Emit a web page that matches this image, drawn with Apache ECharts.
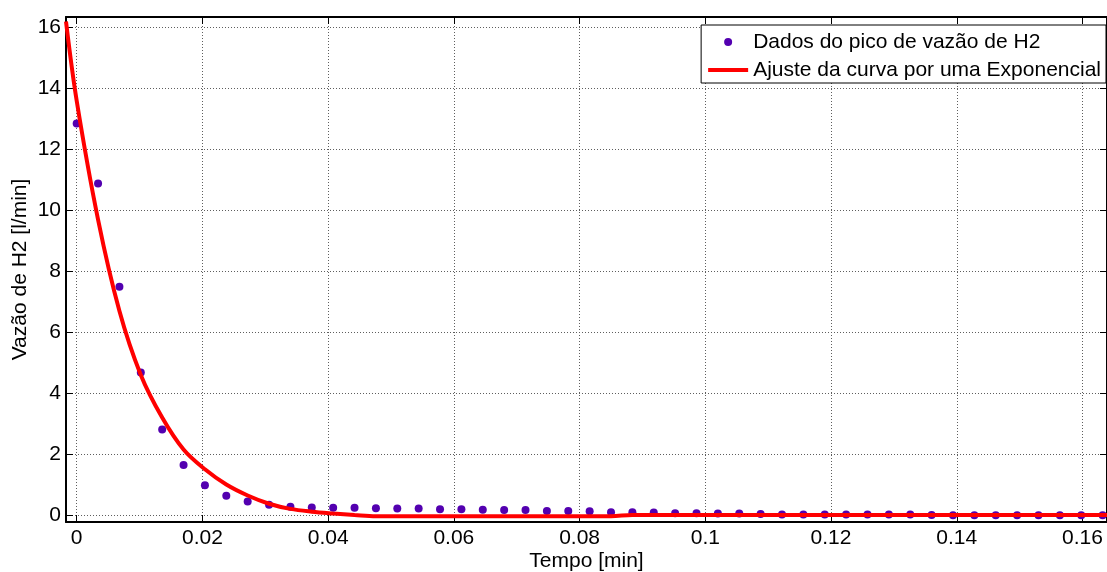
<!DOCTYPE html>
<html>
<head>
<meta charset="utf-8">
<script src="https://cdn.jsdelivr.net/npm/echarts@6/dist/echarts.min.js"></script>
<style>
  html, body { margin: 0; padding: 0; background: #fff; }
  #chart { width: 1107px; height: 572px; }
</style>
</head>
<body>
<div id="chart"></div>
<script>
// ---- Data ----
const tempoDados = [0, 0.0034, 0.0068, 0.0102, 0.0136, 0.017, 0.0204, 0.0238, 0.0272, 0.0306,
  0.034, 0.0374, 0.0408, 0.0442, 0.0476, 0.051, 0.0544, 0.0578, 0.0612, 0.0646,
  0.068, 0.0714, 0.0748, 0.0782, 0.0816, 0.085, 0.0884, 0.0918, 0.0952, 0.0986,
  0.102, 0.1054, 0.1088, 0.1122, 0.1156, 0.119, 0.1224, 0.1258, 0.1292, 0.1326,
  0.136, 0.1394, 0.1428, 0.1462, 0.1496, 0.153, 0.1564, 0.1598, 0.1632];
const vazaoDados = [12.85, 10.88, 7.49, 4.68, 2.81, 1.64, 0.98, 0.63, 0.44, 0.34,
  0.27, 0.25, 0.24, 0.24, 0.22, 0.21, 0.21, 0.19, 0.19, 0.17,
  0.16, 0.16, 0.13, 0.13, 0.12, 0.09, 0.09, 0.08, 0.06, 0.06,
  0.05, 0.05, 0.03, 0.02, 0.02, 0.02, 0.02, 0.02, 0.02, 0.02,
  0.0, -0.01, -0.01, -0.01, -0.01, -0.01, -0.01, -0.01, -0.01];

const tempoAjuste = [-0.0017, 0, 0.0034, 0.0068, 0.0102, 0.0136, 0.017, 0.0204, 0.0238, 0.0272,
  0.0306, 0.034, 0.0374, 0.0408, 0.0442, 0.0476, 0.051, 0.0544, 0.0578, 0.0612,
  0.0646, 0.068, 0.0714, 0.0748, 0.0782, 0.0816, 0.085, 0.0884, 0.0918, 0.0952,
  0.0986, 0.102, 0.1054, 0.1088, 0.1122, 0.1156, 0.119, 0.1224, 0.1258, 0.1292,
  0.1326, 0.136, 0.1394, 0.1428, 0.1462, 0.1496, 0.153, 0.1564, 0.1598, 0.1632, 0.1639];
const vazaoAjuste = [16.2, 13.6, 9.7, 6.7, 4.6, 3.2, 2.15, 1.5, 1.0, 0.64,
  0.37, 0.2, 0.11, 0.05, 0.0, -0.04, -0.04, -0.04, -0.04, -0.04,
  -0.04, -0.04, -0.04, -0.04, -0.04, -0.04, -0.04, 0.0, 0.0, 0.0,
  0.0, 0.0, 0.0, 0.0, 0.0, 0.0, 0.0, 0.0, 0.0, 0.0,
  0.0, 0.0, 0.0, 0.0, 0.0, 0.0, 0.0, 0.0, 0.0, 0.0, 0.0];

const nomeDados = 'Dados do pico de vazão de H2';
const nomeAjuste = 'Ajuste da curva por uma Exponencial';
const xTitulo = 'Tempo [min]';
const yTitulo = 'Vazão de H2 [l/min]';
const xLimites = [-0.0017, 0.1639];
const yLimites = [-0.23, 16.35];
const xPasso = 0.02;
const yPasso = 2;

// ---- Chart ----
const FONT = '"Liberation Sans", Arial, sans-serif';
function fmt(step) {
  return function (v) {
    const k = v / step;
    if (Math.abs(k - Math.round(k)) > 1e-6) return '';
    return String(+(Math.round(k) * step).toFixed(6));
  };
}
const gridLine = { show: true, lineStyle: { color: '#5e5e5e', type: [1, 2], width: 1 } };
const axLine = { show: true, onZero: false, lineStyle: { color: '#000', width: 2 } };
const tick = { show: true, inside: true, length: 7, lineStyle: { color: '#000', width: 1 } };

const chart = echarts.init(document.getElementById('chart'), null, { renderer: 'canvas' });
chart.setOption({
  backgroundColor: '#fff',
  animation: false,
  textStyle: { fontFamily: FONT },
  grid: { left: 66, top: 17, right: 0, bottom: 50, containLabel: false, outerBoundsMode: 'none' },
  legend: {
    orient: 'vertical',
    right: 1,
    top: 25,
    backgroundColor: '#fff',
    borderColor: '#000',
    borderWidth: 1,
    borderRadius: 0,
    padding: [5, 5, 1, 7],
    itemGap: 4,
    itemWidth: 40,
    itemHeight: 8,
    symbolKeepAspect: true,
    textStyle: { fontSize: 21, color: '#000', fontFamily: FONT, lineHeight: 24 },
    data: [
      { name: nomeDados, icon: 'circle', itemStyle: { color: '#5300b0', opacity: 1 } },
      { name: nomeAjuste, icon: 'path://M0,0 L40,0 L40,4 L0,4 Z', itemStyle: { color: '#ff0000' } }
    ]
  },
  xAxis: [{
    type: 'value',
    min: xLimites[0], max: xLimites[1],
    splitNumber: 8,
    name: xTitulo, nameLocation: 'middle', nameGap: 29, nameMoveOverlap: false,
    nameTextStyle: { fontSize: 21, color: '#000', fontFamily: FONT },
    axisLine: axLine,
    axisTick: tick,
    axisLabel: { fontSize: 21, color: '#000', margin: 6, formatter: fmt(xPasso), fontFamily: FONT, hideOverlap: false },
    splitLine: gridLine
  }, {
    type: 'value', position: 'top',
    min: xLimites[0], max: xLimites[1], splitNumber: 8,
    axisLine: axLine,
    axisTick: tick,
    axisLabel: { show: false },
    splitLine: { show: false }
  }],
  yAxis: [{
    type: 'value',
    min: yLimites[0], max: yLimites[1],
    splitNumber: 8,
    name: yTitulo, nameLocation: 'middle', nameGap: 35, nameMoveOverlap: false,
    nameTextStyle: { fontSize: 21, color: '#000', fontFamily: FONT },
    axisLine: axLine,
    axisTick: tick,
    axisLabel: { fontSize: 21, color: '#000', margin: 5, formatter: fmt(yPasso), fontFamily: FONT, hideOverlap: false },
    splitLine: gridLine
  }, {
    type: 'value', position: 'right',
    min: yLimites[0], max: yLimites[1], splitNumber: 8,
    axisLine: axLine,
    axisTick: tick,
    axisLabel: { show: false },
    splitLine: { show: false }
  }],
  series: [{
    name: nomeDados,
    type: 'scatter',
    symbol: 'circle',
    symbolSize: 8,
    itemStyle: { color: '#5300b0', opacity: 1 },
    data: tempoDados.map((t, i) => [t, vazaoDados[i]]),
    z: 2
  }, {
    name: nomeAjuste,
    type: 'line',
    symbol: 'none',
    showSymbol: false,
    smooth: 0.35,
    lineStyle: { color: '#ff0000', width: 4 },
    itemStyle: { color: '#ff0000' },
    data: tempoAjuste.map((t, i) => [t, vazaoAjuste[i]]),
    clip: true,
    z: 3
  }]
});
</script>
</body>
</html>
